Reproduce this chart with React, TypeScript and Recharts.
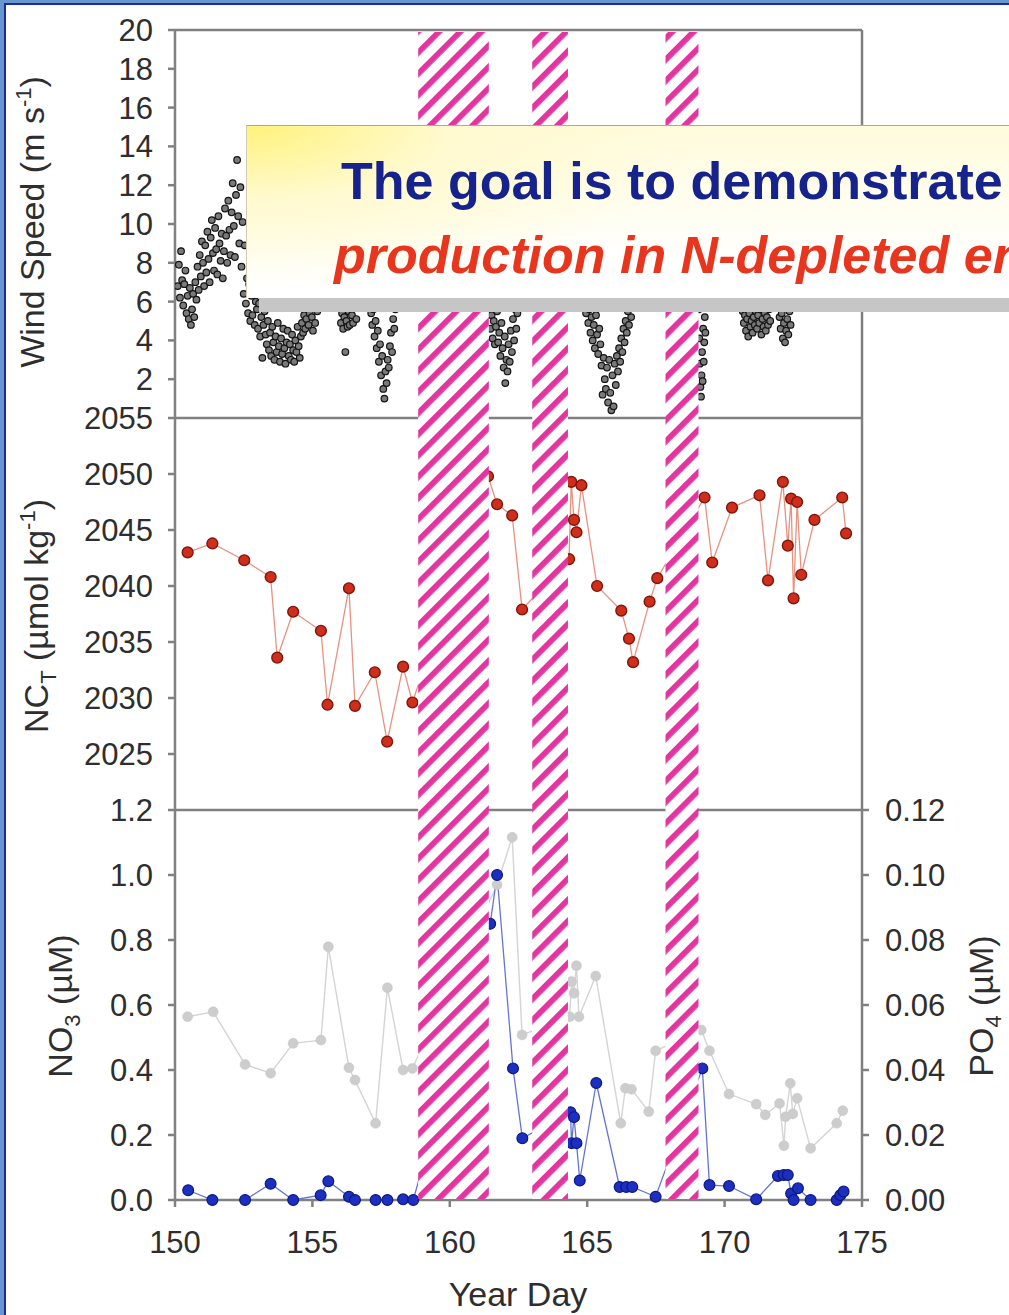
import React from 'react'
import { ComposedChart, Line, XAxis, YAxis, ReferenceArea } from 'recharts'

const FONT = '"Liberation Sans", Arial, Helvetica, sans-serif'
const AXIS_GREY = '#808080'
const INK = '#2e2e2e'

// axis ticks
const dayTicks = [150, 155, 160, 165, 170, 175]
const windTicks = [2, 4, 6, 8, 10, 12, 14, 16, 18, 20]
const nctTicks = [2025, 2030, 2035, 2040, 2045, 2050, 2055]
const no3Ticks = [0, 0.2, 0.4, 0.6, 0.8, 1.0, 1.2]
const po4Ticks = [0, 0.02, 0.04, 0.06, 0.08, 0.1, 0.12]

// hatched periods, year day start / end
const stormBands: [number, number][] = [
  [158.85, 161.42],
  [163.0, 164.3],
  [167.85, 169.05],
]

const windA: [number, number][] = [
  [150.10, 6.8], [150.14, 7.9], [150.18, 6.2], [150.22, 8.6], [150.26, 7.1], [150.30, 5.8], [150.34, 6.9], [150.38, 7.6],
  [150.42, 5.4], [150.46, 6.3], [150.50, 5.1], [150.54, 6.7], [150.58, 4.8], [150.62, 5.6], [150.66, 6.4], [150.70, 5.2],
  [150.74, 7.0], [150.78, 6.1], [150.82, 7.8], [150.86, 6.6], [150.90, 8.4], [150.94, 7.3], [150.98, 9.1], [151.02, 8.0],
  [151.06, 6.8], [151.10, 8.9], [151.14, 7.5], [151.18, 9.6], [151.22, 8.2], [151.26, 7.0], [151.30, 9.3], [151.34, 10.2],
  [151.38, 8.5], [151.42, 7.6], [151.46, 9.8], [151.50, 8.7], [151.54, 7.4], [151.58, 10.4], [151.62, 9.0], [151.66, 8.1],
  [151.70, 9.5], [151.74, 7.2], [151.78, 8.6], [151.82, 10.8], [151.86, 9.4], [151.90, 8.0], [151.94, 11.2], [151.98, 9.7],
  [152.02, 8.4], [152.06, 10.6], [152.10, 12.1], [152.14, 9.9], [152.18, 8.3], [152.22, 11.5], [152.26, 13.3], [152.30, 10.4],
  [152.34, 9.0], [152.38, 11.9], [152.42, 7.8], [152.46, 10.1], [152.50, 6.4], [152.54, 8.9], [152.58, 5.9],
]
const windB: [number, number][] = [
  [152.62, 7.2], [152.66, 5.4], [152.70, 6.9], [152.74, 5.0], [152.78, 6.3], [152.82, 5.3], [152.86, 7.6], [152.90, 4.8],
  [152.94, 6.0], [152.98, 5.6], [153.02, 4.6], [153.06, 5.9], [153.10, 4.2], [153.14, 5.2], [153.18, 3.1], [153.22, 4.8],
  [153.26, 5.5], [153.30, 4.3], [153.34, 3.8], [153.38, 5.0], [153.42, 3.5], [153.46, 4.4], [153.50, 3.2], [153.54, 4.7],
  [153.58, 3.9], [153.62, 3.0], [153.66, 4.2], [153.70, 3.4], [153.74, 4.9], [153.78, 3.7], [153.82, 2.9], [153.86, 4.1],
  [153.90, 3.3], [153.94, 4.6], [153.98, 3.6], [154.02, 2.8], [154.06, 3.9], [154.10, 4.5], [154.14, 3.2], [154.18, 3.8],
  [154.22, 3.0], [154.26, 4.3], [154.30, 3.5], [154.34, 2.9], [154.38, 4.0], [154.42, 3.4], [154.46, 4.7], [154.50, 3.7],
  [154.54, 3.1], [154.58, 4.2], [154.62, 4.9], [154.66, 4.4], [154.70, 5.3], [154.74, 4.6], [154.78, 5.1], [154.82, 6.2],
  [154.86, 4.8], [154.90, 5.4], [154.94, 6.6], [154.98, 5.2], [155.02, 4.5], [155.06, 5.7], [155.10, 4.9], [155.14, 6.3],
  [155.18, 5.5], [155.22, 7.1], [155.26, 5.9], [155.30, 6.8], [155.38, 7.6], [155.46, 8.4], [155.54, 7.2], [155.62, 8.9],
  [155.70, 7.8], [155.78, 6.9], [155.86, 7.5], [155.94, 6.4], [156.00, 5.8], [156.04, 4.9], [156.08, 5.4], [156.12, 4.6],
  [156.16, 5.2], [156.20, 3.4], [156.24, 5.0], [156.28, 4.7], [156.32, 5.5], [156.36, 4.8], [156.40, 6.1], [156.44, 5.3],
  [156.48, 4.9], [156.52, 5.7], [156.56, 6.4], [156.60, 5.1], [156.64, 6.8], [156.72, 7.3], [156.80, 6.5], [156.88, 7.9],
  [156.96, 6.7], [157.04, 5.9], [157.10, 6.3], [157.14, 5.4], [157.18, 4.8], [157.22, 5.6], [157.26, 4.2], [157.30, 5.0],
  [157.34, 3.6], [157.38, 4.5], [157.42, 2.9], [157.46, 3.8], [157.50, 2.2], [157.54, 3.2], [157.58, 1.5], [157.62, 1.0],
  [157.66, 2.4], [157.70, 1.8], [157.74, 3.0], [157.78, 2.6], [157.82, 3.7], [157.86, 4.4], [157.90, 3.4], [157.94, 5.1],
  [157.98, 4.6], [158.02, 5.6], [158.08, 6.4], [158.16, 7.2], [158.24, 6.6], [158.32, 7.8], [158.40, 7.0], [158.48, 8.2],
  [158.56, 7.4], [158.64, 8.6], [158.72, 7.9], [158.80, 8.8],
]
const windC: [number, number][] = [
  [161.44, 5.8], [161.48, 4.6], [161.52, 5.3], [161.56, 4.1], [161.60, 5.0], [161.64, 3.8], [161.68, 4.7], [161.72, 5.5],
  [161.76, 3.9], [161.80, 4.4], [161.84, 3.2], [161.88, 4.9], [161.92, 3.6], [161.96, 2.6], [162.00, 4.2], [162.02, 1.8],
  [162.06, 3.0], [162.10, 2.4], [162.14, 3.8], [162.18, 2.9], [162.22, 4.5], [162.26, 3.4], [162.30, 5.1], [162.34, 4.0],
  [162.38, 5.6], [162.42, 4.6], [162.46, 5.4], [162.52, 6.3], [162.60, 7.1], [162.70, 6.6], [162.80, 7.8], [162.90, 7.2],
  [163.00, 8.1],
]
const windD: [number, number][] = [
  [164.34, 8.6], [164.42, 7.8], [164.50, 8.4], [164.58, 7.1], [164.66, 7.7], [164.74, 6.6], [164.82, 7.2], [164.90, 6.1],
  [164.96, 5.4], [165.00, 6.0], [165.04, 4.9], [165.08, 5.6], [165.12, 4.4], [165.16, 5.2], [165.20, 4.0], [165.24, 4.8],
  [165.28, 3.6], [165.32, 5.3], [165.36, 4.3], [165.40, 3.3], [165.44, 4.6], [165.48, 3.8], [165.52, 2.7], [165.56, 1.2],
  [165.60, 3.1], [165.64, 2.0], [165.68, 1.5], [165.72, 2.6], [165.76, 0.8], [165.80, 3.0], [165.84, 1.3], [165.88, 0.4],
  [165.92, 2.2], [165.96, 0.6], [166.00, 2.8], [166.04, 1.7], [166.08, 3.2], [166.12, 2.4], [166.16, 3.6], [166.20, 2.9],
  [166.24, 4.1], [166.28, 3.4], [166.32, 4.6], [166.36, 3.9], [166.40, 5.0], [166.44, 4.4], [166.48, 5.5], [166.52, 4.8],
  [166.56, 5.9], [166.60, 5.2], [166.64, 6.3], [166.72, 7.0], [166.80, 6.5], [166.90, 7.6], [167.00, 8.2], [167.10, 7.4],
  [167.20, 8.8], [167.30, 8.0], [167.40, 9.1], [167.50, 8.3], [167.60, 7.6], [167.70, 8.5], [167.80, 7.9],
]
const windE: [number, number][] = [
  [169.06, 5.6], [169.08, 4.1], [169.10, 2.8], [169.12, 1.6], [169.14, 1.1], [169.16, 2.2], [169.18, 3.4], [169.20, 1.9],
  [169.22, 4.6], [169.24, 2.9], [169.26, 3.9], [169.28, 5.2], [169.30, 4.4], [169.34, 5.8], [169.40, 6.9], [169.50, 7.8],
  [169.60, 7.1], [169.70, 8.3], [169.80, 7.5], [169.90, 8.6], [170.00, 9.2], [170.10, 8.1], [170.20, 7.4], [170.30, 8.0],
  [170.40, 6.9], [170.50, 7.3], [170.60, 6.2], [170.66, 5.5], [170.70, 4.9], [170.74, 5.3], [170.78, 4.5], [170.82, 5.1],
  [170.86, 4.2], [170.90, 5.4], [170.94, 4.7], [170.98, 5.0], [171.02, 4.4], [171.06, 5.2], [171.10, 4.8], [171.14, 5.5],
  [171.18, 4.6], [171.22, 5.3], [171.26, 4.9], [171.30, 5.6], [171.34, 4.3], [171.38, 5.1], [171.42, 4.7], [171.46, 5.4],
  [171.50, 4.5], [171.54, 5.2], [171.58, 4.8], [171.62, 5.6], [171.66, 5.0], [171.72, 6.1], [171.80, 6.8], [171.88, 6.3],
  [171.96, 5.8], [172.00, 5.2], [172.04, 4.6], [172.08, 5.4], [172.12, 4.1], [172.16, 4.9], [172.20, 3.9], [172.24, 4.5],
  [172.28, 5.1], [172.32, 4.3], [172.36, 5.5], [172.40, 4.8],
]

// NC_T (umol/kg)
const nctDays = [
  150.46, 151.36, 152.52, 153.48, 153.72, 154.30, 155.31, 155.55, 156.33, 156.55, 157.27, 157.72, 158.30, 158.64,
  161.39, 161.72, 162.27, 162.63, 164.34, 164.42, 164.52, 164.61, 164.79, 165.36, 166.24, 166.52, 166.67, 167.27,
  167.55, 169.27, 169.55, 170.27, 171.27, 171.58, 172.12, 172.30, 172.42, 172.51, 172.64, 172.79, 173.27, 174.28, 174.42,
]
const nctValues = [
  2043.0, 2043.8, 2042.3, 2040.8, 2033.6, 2037.7, 2036.0, 2029.4, 2039.8, 2029.3, 2032.3, 2026.1, 2032.8, 2029.6,
  2049.8, 2047.3, 2046.3, 2037.9, 2042.4, 2049.3, 2045.9, 2044.8, 2049.0, 2040.0, 2037.8, 2035.3, 2033.2, 2038.6,
  2040.7, 2047.9, 2042.1, 2047.0, 2048.1, 2040.5, 2049.3, 2043.6, 2047.8, 2038.9, 2047.5, 2041.0, 2045.9, 2047.9, 2044.7,
]

// NO3 (uM)
const no3Days = [
  150.48, 151.36, 152.55, 153.48, 154.30, 155.30, 155.58, 156.33, 156.55, 157.30, 157.73, 158.30, 158.67,
  161.47, 161.72, 162.30, 162.64, 164.39, 164.43, 164.52, 164.61, 164.73, 165.33, 166.18, 166.42, 166.64, 167.49,
  169.19, 169.45, 170.16, 171.15, 171.94, 172.15, 172.30, 172.42, 172.51, 172.67, 173.13, 174.08, 174.21, 174.33,
]
const no3Values = [
  0.03, 0.0, 0.0, 0.05, 0.0, 0.015, 0.058, 0.01, 0.0, 0.0, 0.0, 0.002, 0.0,
  0.85, 1.0, 0.405, 0.19, 0.27, 0.175, 0.255, 0.175, 0.06, 0.36, 0.04, 0.04, 0.04, 0.01,
  0.405, 0.046, 0.043, 0.002, 0.074, 0.077, 0.077, 0.02, 0.0, 0.036, 0.0, 0.0, 0.015, 0.026,
]

// PO4 (uM)
const po4Days = [
  150.46, 151.39, 152.55, 153.48, 154.30, 155.31, 155.58, 156.33, 156.55, 157.30, 157.73, 158.30, 158.64,
  161.72, 162.27, 162.63, 164.36, 164.43, 164.52, 164.61, 164.70, 165.31, 166.22, 166.39, 166.61, 167.24, 167.49,
  169.15, 169.45, 170.16, 171.15, 171.48, 172.00, 172.16, 172.22, 172.39, 172.48, 172.64, 173.13, 174.08, 174.30,
]
const po4Values = [
  0.0564, 0.0579, 0.0417, 0.039, 0.0482, 0.0492, 0.0779, 0.0407, 0.0369, 0.0236, 0.0653, 0.04, 0.0405,
  0.097, 0.1116, 0.0508, 0.0564, 0.0672, 0.0636, 0.0721, 0.0564, 0.0689, 0.0236, 0.0344, 0.0341, 0.0272, 0.0459,
  0.0523, 0.0459, 0.0326, 0.0295, 0.0262, 0.0297, 0.0167, 0.0256, 0.0359, 0.0265, 0.0313, 0.0159, 0.0236, 0.0275,
]

const wind = [...windA, ...windB, ...windC, ...windD, ...windE].map(([day, v]) => ({ day, v }))
const nct = nctDays.map((day, i) => ({ day, v: nctValues[i] }))
const no3 = no3Days.map((day, i) => ({ day, v: no3Values[i] }))
const po4 = po4Days.map((day, i) => ({ day, v: po4Values[i] }))

const tickFont = { fill: INK, fontSize: 31, fontFamily: FONT }

type Part = { t: string; s?: number }

// rotated axis title; the baseline runs vertically through (bx, by)
function RotTitle({ bx, by, parts }: { bx: number; by: number; parts: Part[] }) {
  let prev = 0
  return (
    <text
      x={bx}
      y={by}
      transform={`rotate(-90 ${bx} ${by})`}
      textAnchor="middle"
      fill={INK}
      fontSize={34}
      fontFamily={FONT}
      style={{ whiteSpace: 'pre' }}
    >
      {parts.map((p, i) => {
        const s = p.s ?? 0
        const dy = s - prev
        prev = s
        return (
          <tspan key={i} dy={dy} fontSize={s ? 22 : 34}>
            {p.t}
          </tspan>
        )
      })}
    </text>
  )
}

function DayTitle({ bx, by }: { bx: number; by: number }) {
  return (
    <text x={bx} y={by} textAnchor="middle" fill={INK} fontSize={34} fontFamily={FONT}>
      Year Day
    </text>
  )
}

const axisLine = { stroke: AXIS_GREY, strokeWidth: 2.5 }

export default function App() {
  return (
    <div
      style={{
        position: 'absolute',
        left: 0,
        top: 0,
        width: 1009,
        height: 1315,
        overflow: 'hidden',
        background: '#6797cd',
      }}
    >
      <div
        style={{
          position: 'absolute',
          left: 4,
          top: 3,
          right: -10,
          bottom: -10,
          background: '#fff',
          borderLeft: '2px solid #1b2a9e',
          borderTop: '2px solid #1b2a9e',
        }}
      />

      {/* wind speed */}
      <div style={{ position: 'absolute', left: 0, top: 0 }}>
        <ComposedChart width={1009} height={430} margin={{ top: 20, right: 137, bottom: 12, left: 95 }}>
          <XAxis xAxisId="top" orientation="top" type="number" dataKey="day" domain={[150, 175]} ticks={dayTicks}
            interval={0} tick={false} tickSize={7} height={10} {...axisLine} allowDataOverflow />
          <YAxis yAxisId="left" type="number" domain={[0, 20]} ticks={windTicks} interval={0} width={80}
            tickSize={7} tickMargin={15} tick={tickFont} {...axisLine}
            label={<RotTitle bx={44} by={222} parts={[{ t: 'Wind Speed (m s' }, { t: '-1', s: -13 }, { t: ')' }]} />} />
          <YAxis yAxisId="right" orientation="right" type="number" domain={[0, 20]} ticks={windTicks} interval={0}
            width={10} tickSize={7} tick={false} {...axisLine} />
          <Line xAxisId="top" yAxisId="left" data={wind} dataKey="v" stroke="none"
            dot={{ r: 3.3, fill: '#7a7a7a', stroke: '#141414', strokeWidth: 1.2 }} isAnimationActive={false} />
        </ComposedChart>
      </div>

      {/* NC_T */}
      <div style={{ position: 'absolute', left: 0, top: 390 }}>
        <ComposedChart width={1009} height={430} margin={{ top: 18, right: 137, bottom: 10, left: 95 }}>
          <XAxis xAxisId="top" orientation="top" type="number" dataKey="day" domain={[150, 175]} ticks={dayTicks}
            interval={0} tick={false} tickSize={7} height={10} {...axisLine} allowDataOverflow />
          <YAxis yAxisId="left" type="number" domain={[2020, 2055]} ticks={nctTicks} interval={0} width={80}
            tickSize={7} tickMargin={15} tick={tickFont} {...axisLine}
            label={<RotTitle bx={48} by={226} parts={[{ t: 'NC' }, { t: 'T', s: 8 }, { t: ' (µmol kg' }, { t: '-1', s: -13 }, { t: ')' }]} />} />
          <YAxis yAxisId="right" orientation="right" type="number" domain={[2020, 2055]} ticks={nctTicks} interval={0}
            width={10} tickSize={7} tick={false} {...axisLine} />
          <Line xAxisId="top" yAxisId="left" data={nct} dataKey="v" stroke="#e9917f" strokeWidth={1.3}
            dot={{ r: 5.4, fill: '#cf2e1c', stroke: '#7e160c', strokeWidth: 1.4 }} isAnimationActive={false} />
        </ComposedChart>
      </div>

      {/* NO3 and PO4 */}
      <div style={{ position: 'absolute', left: 0, top: 780 }}>
        <ComposedChart width={1009} height={535} margin={{ top: 20, right: 27, bottom: 15, left: 95 }}>
          <XAxis xAxisId="top" orientation="top" type="number" dataKey="day" domain={[150, 175]} ticks={dayTicks}
            interval={0} tick={false} tickSize={7} height={10} {...axisLine} allowDataOverflow />
          <XAxis xAxisId="bottom" orientation="bottom" type="number" dataKey="day" domain={[150, 175]} ticks={dayTicks}
            interval={0} tick={tickFont} tickSize={7} tickMargin={24} height={100} {...axisLine} allowDataOverflow
            label={<DayTitle bx={518} by={526} />} />
          <YAxis yAxisId="left" type="number" domain={[0, 1.2]} ticks={no3Ticks} interval={0} width={80}
            tickSize={7} tickMargin={15} tick={tickFont} tickFormatter={(v: number) => v.toFixed(1)} {...axisLine}
            label={<RotTitle bx={72} by={226} parts={[{ t: 'NO' }, { t: '3', s: 8 }, { t: ' (µM)' }]} />} />
          <YAxis yAxisId="right" orientation="right" type="number" domain={[0, 0.12]} ticks={po4Ticks} interval={0}
            width={120} tickSize={7} tickMargin={16} tick={tickFont} tickFormatter={(v: number) => v.toFixed(2)} {...axisLine}
            label={<RotTitle bx={993} by={226} parts={[{ t: 'PO' }, { t: '4', s: 8 }, { t: ' (µM)' }]} />} />
          <Line xAxisId="bottom" yAxisId="right" data={po4} dataKey="v" stroke="#d4d4d4" strokeWidth={1.4}
            dot={{ r: 5, fill: '#cdcdcd', stroke: '#c4c4c4', strokeWidth: 0.5 }} isAnimationActive={false} />
          <Line xAxisId="bottom" yAxisId="left" data={no3} dataKey="v" stroke="#6474d6" strokeWidth={1.3}
            dot={{ r: 5.4, fill: '#1c2fc0', stroke: '#0c1780', strokeWidth: 1.2 }} isAnimationActive={false} />
        </ComposedChart>
      </div>

      {/* hatched periods across all three panels */}
      <div style={{ position: 'absolute', left: 0, top: 0 }}>
        <ComposedChart width={1009} height={1315} margin={{ top: 32, right: 147, bottom: 116, left: 175 }}>
          <defs>
            <pattern id="stormHatch" patternUnits="userSpaceOnUse" width={15} height={15} patternTransform="rotate(45)">
              <rect width={15} height={15} fill="#ffffff" />
              <rect width={5.8} height={15} fill="#e2359f" />
            </pattern>
          </defs>
          <XAxis type="number" dataKey="day" domain={[150, 175]} hide allowDataOverflow />
          <YAxis type="number" domain={[0, 1]} hide allowDataOverflow />
          {stormBands.map(([a, b], i) => (
            <ReferenceArea key={i} x1={a} x2={b} y1={0} y2={1} fill="url(#stormHatch)" fillOpacity={1}
              stroke="none" ifOverflow="visible" />
          ))}
        </ComposedChart>
      </div>

      {/* callout box */}
      <div
        style={{
          position: 'absolute',
          left: 246,
          top: 125,
          width: 820,
          height: 173,
          boxSizing: 'border-box',
          borderTop: '1px solid #b3ab78',
          borderLeft: '1px solid #d2ccb0',
          background:
            'radial-gradient(ellipse 55% 95% at 0% 0%, #fff27c 0%, #fffad0 45%, rgba(255,255,255,0) 100%), linear-gradient(180deg, #fffbdc 0%, #fffef4 55%, #ffffff 80%)',
          boxShadow: '13px 14px 0 0 #c6c6c6',
        }}
      >
        <svg width={820} height={173} style={{ display: 'block' }}>
          <text x={94} y={73} fill="#16238c" fontSize={52} fontWeight="bold" fontFamily={FONT}>
            The goal is to demonstrate the
          </text>
          <text x={87} y={147} fill="#e8351e" fontSize={52} fontWeight="bold" fontStyle="italic" fontFamily={FONT}>
            production in N-depleted environments
          </text>
        </svg>
      </div>
    </div>
  )
}
